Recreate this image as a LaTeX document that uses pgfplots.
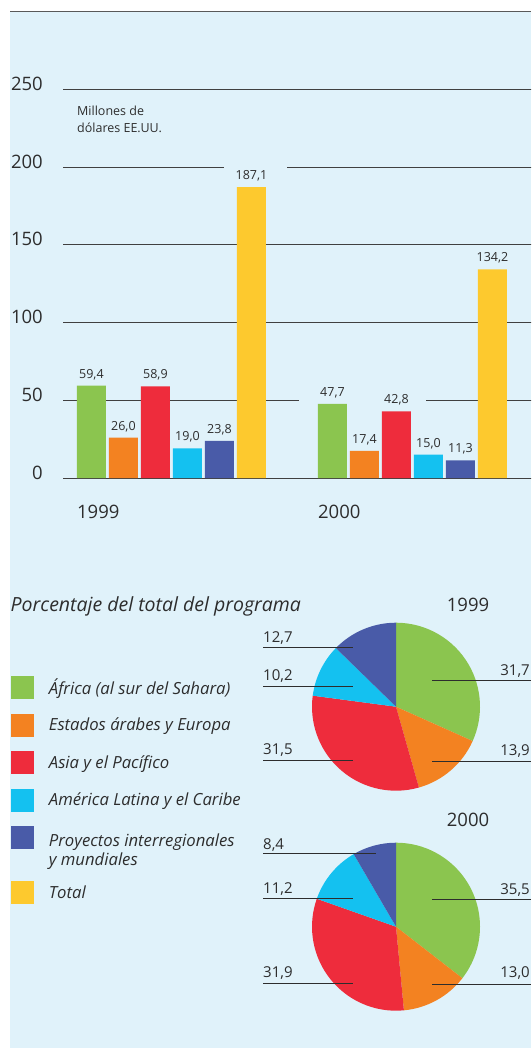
\documentclass[border=0pt]{standalone}
\usepackage{fontspec}
\setmainfont{Open Sans}
\usepackage{pgfplots}
\pgfplotsset{compat=1.18}

\definecolor{bgc}{RGB}{224,242,250}
\definecolor{grn}{RGB}{139,197,79}
\definecolor{org}{RGB}{243,130,33}
\definecolor{red}{RGB}{238,44,60}
\definecolor{cyn}{RGB}{20,193,240}
\definecolor{nav}{RGB}{73,91,168}
\definecolor{ylw}{RGB}{253,201,46}
\definecolor{txt}{RGB}{45,45,45}

\pgfplotsset{
  swatch/.style={legend image code/.code={\fill[##1] (0pt,-11.5pt) rectangle (23pt,11.5pt);}},
  swatchlow/.style={legend image code/.code={\fill[##1] (0pt,-33pt) rectangle (23pt,-10pt);}},
}

% pie slices, clockwise from 12 o'clock; value/colour pairs
\newcommand\drawpie[1]{%
  \gdef\pieang{90}%
  \foreach \v/\c in {#1}{%
    \pgfmathsetmacro\pieend{\pieang-3.6*\v}%
    \edef\cmd{\noexpand\fill[\c] (axis cs:0,0) -- (axis cs:{cos(\pieang)},{sin(\pieang)})
      arc[start angle=\pieang, end angle=\pieend, radius=84pt] -- cycle;}%
    \cmd
    \global\let\pieang\pieend
  }}

\begin{document}
\begin{tikzpicture}[x=1pt,y=1pt]
\useasboundingbox (0,0) rectangle (531,-1048);
\begin{scope}
\clip (0,0) rectangle (531,-1048);
\fill[bgc] (10,-12) rectangle (531,-1048);
\draw[black!65, line width=1.5pt] (10,-11.7) -- (531,-11.7);

\begin{axis}[
  at={(63pt,-478pt)}, anchor=south west,
  scale only axis, x=241pt, y=1.555pt,
  xmin=-0.45, xmax=1.55, ymin=0, ymax=250,
  axis line style={draw=none},
  major tick length=0pt,
  ytick={0,50,...,250},
  ymajorgrids, grid style={black!75, line width=0.8pt},
  xtick={0,1}, xticklabels={1999,2000},
  tick label style={font=\fontsize{18.5}{18.5}\selectfont, text=txt, inner sep=0pt},
  yticklabel style={anchor=base east, xshift=-20pt, yshift=-1pt},
  xticklabel style={anchor=base west, xshift=-94.5pt, yshift=-40pt},
  /pgf/number format/assume math mode=true,
  ybar=3pt, bar width=29pt,
  nodes near coords,
  nodes near coords style={anchor=base, yshift=7.5pt, inner sep=0pt, text=txt,
    font=\fontsize{12.5}{12.5}\selectfont,
    /pgf/number format/fixed, /pgf/number format/fixed zerofill,
    /pgf/number format/precision=1, /pgf/number format/use comma,
    /pgf/number format/assume math mode=true},
  swatch,
  legend cell align=left,
  legend style={at={(axis description cs:-0.1085,-0.5088)}, anchor=north west,
    draw=none, fill=none, inner sep=0pt, row sep=14.5pt, column sep=15pt,
    nodes={inner sep=0pt, text=txt},
    font=\fontsize{16.7}{19}\selectfont\itshape},
]
% gaps in the grid lines behind the value labels
\fill[bgc] (axis cs:0.218,196) rectangle (axis cs:0.479,204);
\fill[bgc] (axis cs:0.529,46) rectangle (axis cs:1.056,54);

\addplot[fill=grn, draw=none] coordinates {(0,59.4) (1,47.7)};
\addlegendentry{África (al sur del Sahara)}
\addplot[fill=org, draw=none] coordinates {(0,26.0) (1,17.4)};
\addlegendentry{Estados árabes y Europa}
\addplot[fill=red, draw=none] coordinates {(0,58.9) (1,42.8)};
\addlegendentry{Asia y el Pacífico}
\addplot[fill=cyn, draw=none] coordinates {(0,19.0) (1,15.0)};
\addlegendentry{América Latina y el Caribe}
\addplot[fill=nav, draw=none] coordinates {(0,23.8) (1,11.3)};
\addlegendentry{\raisebox{-3pt}[\height][0pt]{\vtop{\hbox{Proyectos interregionales}\hbox{y mundiales}}}}
\addplot[fill=ylw, draw=none, swatchlow] coordinates {(0,187.1) (1,134.2)};
\addlegendentry{\raisebox{-22.5pt}[\height][\depth]{Total}}
\end{axis}

\node[anchor=north west, inner sep=0pt, align=left, text=txt,
  font=\fontsize{12.5}{16.7}\selectfont] at (77,-106) {Millones de\\dólares EE.UU.};

% lower panel
\node[anchor=base west, inner sep=0pt, text=txt, font=\fontsize{19.5}{19.5}\selectfont\itshape]
  at (10.5,-611.5) {Porcentaje del total del programa};

\begin{axis}[at={(396pt,-706.7pt)}, anchor=center, scale only axis,
  x=84pt, y=84pt, xmin=-1, xmax=1, ymin=-1, ymax=1, hide axis, clip=false]
\drawpie{31.7/grn,13.9/org,31.5/red,10.2/cyn,12.7/nav}
\end{axis}
\begin{axis}[at={(396pt,-926.7pt)}, anchor=center, scale only axis,
  x=84pt, y=84pt, xmin=-1, xmax=1, ymin=-1, ymax=1, hide axis, clip=false]
\drawpie{35.5/grn,13.0/org,31.9/red,11.2/cyn,8.4/nav}
\end{axis}

\begin{scope}[every node/.style={anchor=base west, inner sep=0pt, text=txt,
    font=\fontsize{15}{15}\selectfont}]
\draw[txt, line width=1pt] (263,-647) -- (353,-647);
\draw[txt, line width=1pt] (263,-686) -- (353,-686);
\draw[txt, line width=1pt] (263,-760) -- (353,-760);
\draw[txt, line width=1pt] (432,-680) -- (531,-680);
\draw[txt, line width=1pt] (432,-761.7) -- (531,-761.7);
\node at (263,-642.7) {12,7};
\node at (263,-680) {10,2};
\node at (263,-754.3) {31,5};
\node[anchor=base east] at (530,-675) {31,7};
\node[anchor=base east] at (530,-755.7) {13,9};
\draw[txt, line width=1pt] (263,-853.3) -- (376,-853.3);
\draw[txt, line width=1pt] (263,-898.7) -- (353,-898.7);
\draw[txt, line width=1pt] (263,-983) -- (353,-983);
\draw[txt, line width=1pt] (432,-899.3) -- (531,-899.3);
\draw[txt, line width=1pt] (432,-984.3) -- (531,-984.3);
\node at (263,-849.3) {8,4};
\node at (263,-893.3) {11,2};
\node at (263,-977.7) {31,9};
\node[anchor=base east] at (530,-894.3) {35,5};
\node[anchor=base east] at (530,-977.7) {13,0};
\node[font=\fontsize{18.5}{18.5}\selectfont] at (446.7,-611.7) {1999};
\node[font=\fontsize{18.5}{18.5}\selectfont] at (446.7,-826) {2000};
\end{scope}
\end{scope}
\end{tikzpicture}
\end{document}
